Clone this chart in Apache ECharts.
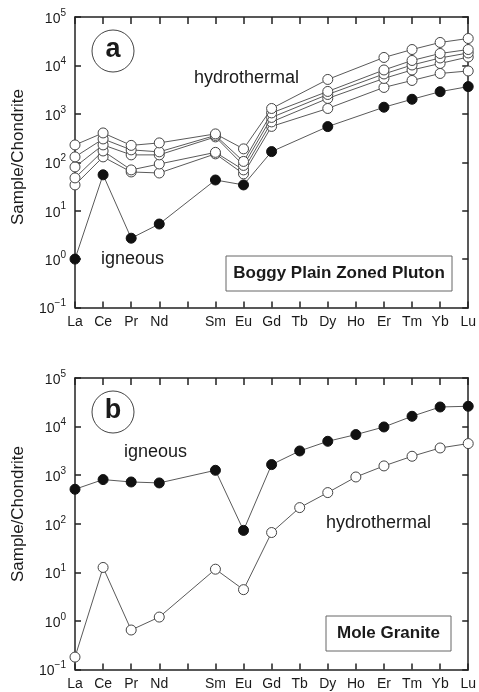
<!DOCTYPE html>
<html>
<head>
<meta charset="utf-8">
<script src="https://cdn.jsdelivr.net/npm/echarts@6/dist/echarts.min.js"></script>
<style>
  html, body { margin: 0; padding: 0; background: #fff; }
  #chart { width: 479px; height: 692px; }
</style>
</head>
<body>
<div id="chart"></div>
<script>
// Rare earth elements along the x axis (Pm has no analyses, so its slot stays empty)
const elements = ['La', 'Ce', 'Pr', 'Nd', 'Pm', 'Sm', 'Eu', 'Gd', 'Tb', 'Dy', 'Ho', 'Er', 'Tm', 'Yb', 'Lu'];
const elementLabels = ['La', 'Ce', 'Pr', 'Nd', '', 'Sm', 'Eu', 'Gd', 'Tb', 'Dy', 'Ho', 'Er', 'Tm', 'Yb', 'Lu'];

// (a) Boggy Plain Zoned Pluton — chondrite-normalised REE
const boggyHydro1 = [228, 403, 223, 251, null, 385, 189, 1290, null, 5130, null, 14600, 21300, 29800, 36000];
const boggyHydro2 = [129, 303, 180, 164, null, 358, 104, 1045, null, 2900, null, 8050, 12650, 17650, 21300];
const boggyHydro3 = [80, 228, 142, 142, null, 334, 86, 843, null, 2510, null, 6660, 10200, 14250, 18070];
const boggyHydro4 = [47.5, 171, 69.5, 92, null, 160, 69.5, 681, null, 2080, null, 5380, 8050, 10970, 14930];
const boggyHydro5 = [34, 129, 63, 60, null, 149, 57.5, 550, null, 1290, null, 3510, 4890, 6820, 7680];
const boggyIgneous = [1.0, 55, 2.7, 5.3, null, 43, 34, 166, null, 545, null, 1370, 2000, 2870, 3650];

// (b) Mole Granite — chondrite-normalised REE
const moleIgneous = [513, 811, 724, 692, null, 1260, 73, 1650, 3150, 4980, 6840, 9820, 16300, 25300, 26200];
const moleHydro = [0.18, 12.6, 0.65, 1.2, null, 11.6, 4.4, 66, 215, 438, 918, 1550, 2450, 3630, 4470];

// Log axis range
const yMin = 0.1;
const yMax = 100000;

const FONT = '"Liberation Sans", Arial, Helvetica, sans-serif';
const INK = '#1a1a1a';
const LINE = '#5a5a5a';
const AXIS = '#222';

const chart = echarts.init(document.getElementById('chart'), null, { renderer: 'canvas' });

function powerLabel(v) {
  const e = Math.round(Math.log10(v));
  const exp = e < 0 ? '\u2212' + (-e) : String(e);
  return '{b|10}{s|' + exp + '}';
}

const grids = [
  { left: 75, top: 17, width: 396.5, height: 290.5 },
  { left: 75, top: 378, width: 396.5, height: 291.5 }
];

function bottomAxis(gi) {
  return {
    type: 'category', gridIndex: gi, position: 'bottom', data: elementLabels,
    boundaryGap: false,
    axisLine: { lineStyle: { color: AXIS, width: 1.5 } },
    axisTick: { inside: true, length: 6, lineStyle: { color: AXIS, width: 1.5 } },
    axisLabel: { color: INK, fontSize: 14, fontFamily: FONT, margin: 8, interval: 0 },
    splitLine: { show: false }
  };
}
function topAxis(gi) {
  return {
    type: 'category', gridIndex: gi, position: 'top', data: elementLabels,
    boundaryGap: false,
    axisLine: { lineStyle: { color: AXIS, width: 1.5 } },
    axisTick: { inside: true, length: 7, interval: 0, lineStyle: { color: AXIS, width: 1.5 } },
    axisLabel: { show: false },
    splitLine: { show: false }
  };
}
function leftAxis(gi) {
  return {
    type: 'log', logBase: 10, gridIndex: gi, position: 'left', min: yMin, max: yMax,
    splitNumber: 6,
    axisLine: { show: true, lineStyle: { color: AXIS, width: 1.5 } },
    axisTick: { show: true, inside: true, length: 6, lineStyle: { color: AXIS, width: 1.5 } },
    axisLabel: {
      margin: 9, formatter: powerLabel,
      rich: {
        b: { fontSize: 14, fontFamily: FONT, color: INK, lineHeight: 18, verticalAlign: 'bottom' },
        s: { fontSize: 10, fontFamily: FONT, color: INK, lineHeight: 18, verticalAlign: 'top' }
      }
    },
    splitLine: { show: false },
    minorTick: { show: false }
  };
}
function rightAxis(gi) {
  return {
    type: 'log', logBase: 10, gridIndex: gi, position: 'right', min: yMin, max: yMax,
    splitNumber: 6,
    axisLine: { show: true, lineStyle: { color: AXIS, width: 1.5 } },
    axisTick: { show: true, inside: true, length: 6, lineStyle: { color: AXIS, width: 1.5 } },
    axisLabel: { show: false },
    splitLine: { show: false }
  };
}

function profile(data, gi, filled, z) {
  return {
    type: 'line', xAxisIndex: gi * 2, yAxisIndex: gi * 2, data: data,
    connectNulls: true, symbol: 'circle', symbolSize: 10, showAllSymbol: true,
    z: z,
    lineStyle: { color: LINE, width: 1 },
    itemStyle: filled
      ? { color: '#111', borderColor: '#111', borderWidth: 1 }
      : { color: '#fff', borderColor: '#444', borderWidth: 1 },
    emphasis: { disabled: true },
    animation: false
  };
}

function textEl(x, y, str, size, weight, align) {
  return {
    type: 'text', x: x, y: y, z: 50,
    style: { text: str, fontSize: size, fontWeight: weight || 'normal', fontFamily: FONT,
             fill: INK, textAlign: align || 'left', textVerticalAlign: 'middle' }
  };
}
function panelBadge(cx, cy, letter) {
  return [
    { type: 'circle', shape: { cx: cx, cy: cy, r: 21 }, z: 50,
      style: { fill: '#fff', stroke: '#444', lineWidth: 1 } },
    textEl(cx, cy - 1, letter, 27, 'bold', 'center')
  ];
}
function titleBox(x, y, w, h, str) {
  return [
    { type: 'rect', shape: { x: x, y: y, width: w, height: h }, z: 50,
      style: { fill: '#fff', stroke: '#666', lineWidth: 1 } },
    textEl(x + w / 2, y + h / 2, str, 17, 'bold', 'center')
  ];
}
function yName(cx, cy) {
  return {
    type: 'text', x: cx, y: cy, rotation: Math.PI / 2, z: 50,
    style: { text: 'Sample/Chondrite', fontSize: 17, fontFamily: FONT, fill: INK,
             textAlign: 'center', textVerticalAlign: 'middle' }
  };
}

chart.setOption({
  animation: false,
  backgroundColor: '#fff',
  grid: grids,
  xAxis: [bottomAxis(0), topAxis(0), bottomAxis(1), topAxis(1)],
  yAxis: [leftAxis(0), rightAxis(0), leftAxis(1), rightAxis(1)],
  series: [
    profile(boggyIgneous, 0, true, 3),
    profile(boggyHydro5, 0, false, 4),
    profile(boggyHydro4, 0, false, 5),
    profile(boggyHydro3, 0, false, 6),
    profile(boggyHydro2, 0, false, 7),
    profile(boggyHydro1, 0, false, 8),
    profile(moleHydro, 1, false, 4),
    profile(moleIgneous, 1, true, 5)
  ],
  graphic: [
    ...panelBadge(113, 51, 'a'),
    textEl(194, 78, 'hydrothermal', 18),
    textEl(101, 259, 'igneous', 18),
    ...titleBox(226, 256, 226, 35, 'Boggy Plain Zoned Pluton'),
    ...panelBadge(113, 412, 'b'),
    textEl(124, 452, 'igneous', 18),
    textEl(326, 523, 'hydrothermal', 18),
    ...titleBox(326, 616, 125, 35, 'Mole Granite'),
    yName(18, 157),
    yName(18, 514)
  ]
});
</script>
</body>
</html>
